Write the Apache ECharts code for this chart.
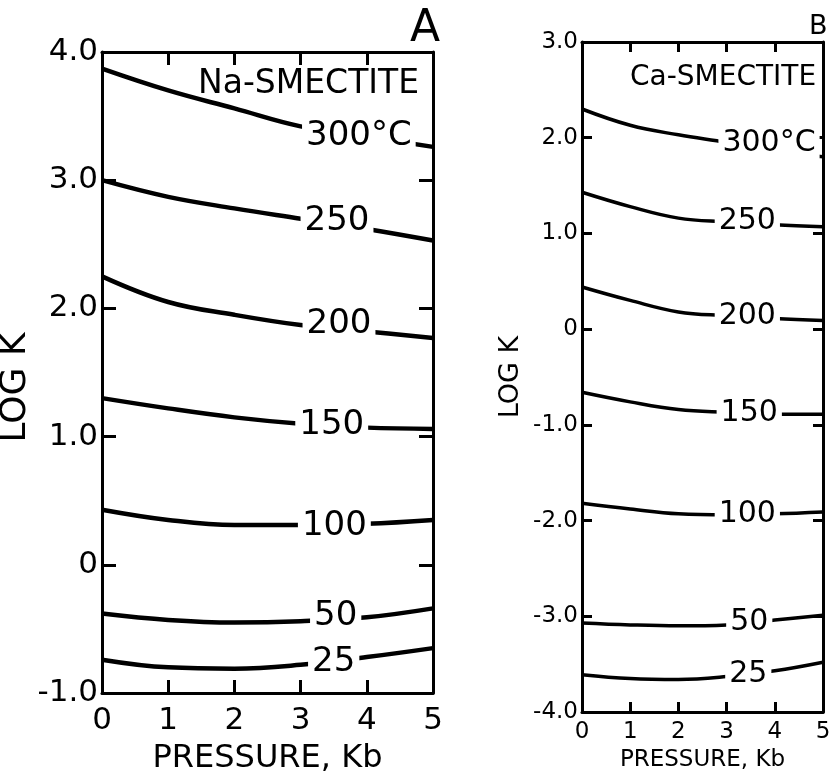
<!DOCTYPE html>
<html>
<head>
<meta charset="utf-8">
<script src="https://cdn.jsdelivr.net/npm/echarts@6/dist/echarts.min.js"></script>
<style>
  html, body { margin: 0; padding: 0; background: #fff; }
  #chart { width: 832px; height: 776px; }
</style>
</head>
<body>
<div id="chart"></div>
<script>
// pressure (Kb) where the curves were read
var pressure = [0, 1, 2, 3, 4, 5];
var temps = ['25', '50', '100', '150', '200', '250', '300°C'];

// log K, Na-smectite (panel A)
var naLogK = [
  [-0.74, -0.80, -0.81, -0.78, -0.72, -0.65],
  [-0.38, -0.43, -0.45, -0.44, -0.41, -0.34],
  [0.43, 0.35, 0.31, 0.31, 0.32, 0.35],
  [1.30, 1.22, 1.15, 1.10, 1.07, 1.06],
  [2.25, 2.05, 1.95, 1.87, 1.82, 1.77],
  [3.00, 2.87, 2.78, 2.70, 2.62, 2.53],
  [3.87, 3.70, 3.56, 3.42, 3.34, 3.26]
];
// log K, Ca-smectite (panel B)
var caLogK = [
  [-3.61, -3.65, -3.66, -3.63, -3.57, -3.48],
  [-3.07, -3.09, -3.10, -3.09, -3.04, -2.99],
  [-1.82, -1.88, -1.93, -1.94, -1.93, -1.91],
  [-0.66, -0.76, -0.84, -0.87, -0.89, -0.89],
  [0.44, 0.30, 0.18, 0.14, 0.11, 0.09],
  [1.43, 1.28, 1.16, 1.12, 1.09, 1.07],
  [2.30, 2.13, 2.03, 1.95, 1.86, 1.80]
];

// where each temperature label sits on its curve [pressure, logK]
var naLabelAt = [[3.5, -0.76], [3.53, -0.40], [3.51, 0.30], [3.47, 1.09], [3.58, 1.88], [3.55, 2.68], [3.88, 3.34]];
var caLabelAt = [[3.45, -3.61], [3.47, -3.06], [3.43, -1.93], [3.47, -0.88], [3.43, 0.14], [3.43, 1.13], [3.88, 1.94]];

var xTicks = ['0', '1', '2', '3', '4', '5'];
var yTicksA = [-1, 0, 1, 2, 3, 4];
var yTextA = ['-1.0', '0', '1.0', '2.0', '3.0', '4.0'];
var yTicksB = [-4, -3, -2, -1, 0, 1, 2, 3];
var yTextB = ['-4.0', '-3.0', '-2.0', '-1.0', '0', '1.0', '2.0', '3.0'];

var FONT = 'DejaVu Sans';
var myChart = echarts.init(document.getElementById('chart'));

function tickFmt(ticks, texts) {
  return function (v) {
    var i = ticks.indexOf(Math.round(v));
    return i >= 0 ? texts[i] : '';
  };
}

function xAxes(grid, fs, tickLen, lw, margin, nameFs, nameGap) {
  var line = { show: true, onZero: false, lineStyle: { color: '#000', width: lw } };
  return [
    {
      gridIndex: grid, type: 'value', min: 0, max: 5, interval: 1, position: 'bottom',
      axisLine: line,
      axisTick: { inside: true, length: tickLen, lineStyle: { color: '#000', width: lw } },
      axisLabel: { color: '#000', fontSize: fs, fontFamily: FONT, margin: margin,
        formatter: function (v) { return xTicks[v]; } },
      splitLine: { show: false },
      name: 'PRESSURE, Kb', nameLocation: 'middle', nameGap: nameGap,
      nameTextStyle: { color: '#000', fontSize: nameFs, fontFamily: FONT }
    },
    {
      gridIndex: grid, type: 'value', min: 0, max: 5, interval: 1, position: 'top',
      axisLine: line,
      axisTick: { inside: true, length: tickLen, lineStyle: { color: '#000', width: lw } },
      axisLabel: { show: false },
      splitLine: { show: false }
    }
  ];
}

function yAxes(grid, min, max, ticks, texts, fs, tickLen, lw, nameFs, nameGap, namePad) {
  var line = { show: true, onZero: false, lineStyle: { color: '#000', width: lw } };
  return [
    {
      gridIndex: grid, type: 'value', min: min, max: max, interval: 1, position: 'left',
      axisLine: line,
      axisTick: { inside: true, length: tickLen, lineStyle: { color: '#000', width: lw } },
      axisLabel: { color: '#000', fontSize: fs, fontFamily: FONT, margin: 4,
        formatter: tickFmt(ticks, texts) },
      splitLine: { show: false },
      name: 'LOG K', nameLocation: 'middle', nameRotate: 90, nameGap: nameGap,
      nameTextStyle: { color: '#000', fontSize: nameFs, fontFamily: FONT, padding: namePad }
    },
    {
      gridIndex: grid, type: 'value', min: min, max: max, interval: 1, position: 'right',
      axisLine: line,
      axisTick: { inside: true, length: tickLen, lineStyle: { color: '#000', width: lw } },
      axisLabel: { show: false },
      splitLine: { show: false }
    }
  ];
}

var series = [];
function addPanel(values, labelAt, xi, yi, lw, fs) {
  values.forEach(function (vals, k) {
    series.push({
      type: 'line', name: temps[k], xAxisIndex: xi, yAxisIndex: yi,
      data: pressure.map(function (p, i) { return [p, vals[i]]; }),
      smooth: 0.4, symbol: 'none',
      lineStyle: { color: '#000', width: lw },
      z: 2
    });
  });
  series.push({
    type: 'scatter', xAxisIndex: xi, yAxisIndex: yi, z: 10,
    symbolSize: 1, itemStyle: { color: '#fff', opacity: 1 },
    data: labelAt.map(function (a, k) { return [a[0], a[1], temps[k]]; }),
    label: {
      show: true, position: 'inside', color: '#000', fontSize: fs, fontFamily: FONT,
      backgroundColor: '#fff', padding: [0, 4],
      formatter: function (p) { return p.value[2]; }
    }
  });
}
addPanel(naLogK, naLabelAt, 0, 0, 4.5, 34);
addPanel(caLogK, caLabelAt, 2, 2, 3.5, 30);

var ax = xAxes(0, 31, 13, 3, 12, 32, 50).concat(xAxes(1, 23, 10, 3, 9, 23, 35));
var ay = yAxes(0, -1, 4, yTicksA, yTextA, 31, 14, 3, 36, 58, [0, 30, 0, 0])
  .concat(yAxes(1, -4, 3, yTicksB, yTextB, 23, 10, 3, 27, 58, 0));

var option = {
  backgroundColor: '#fff',
  animation: false,
  title: [
    { text: 'A', left: 405, top: 3, textStyle: { color: '#000', fontSize: 44, fontWeight: 'normal', fontFamily: FONT } },
    { text: 'B', left: 804, top: 8, textStyle: { color: '#000', fontSize: 27, fontWeight: 'normal', fontFamily: FONT } },
    { text: 'Na-SMECTITE', left: 193, top: 63, textStyle: { color: '#000', fontSize: 33, fontWeight: 'normal', fontFamily: FONT } },
    { text: 'Ca-SMECTITE', left: 625, top: 59, textStyle: { color: '#000', fontSize: 28, fontWeight: 'normal', fontFamily: FONT } }
  ],
  grid: [
    { left: 102, top: 52, width: 331, height: 641, outerBoundsMode: 'none' },
    { left: 582, top: 42, width: 241, height: 670, outerBoundsMode: 'none' }
  ],
  xAxis: ax,
  yAxis: ay,
  series: series
};
myChart.setOption(option);
window.addEventListener('resize', function () { myChart.resize(); });
</script>
</body>
</html>
